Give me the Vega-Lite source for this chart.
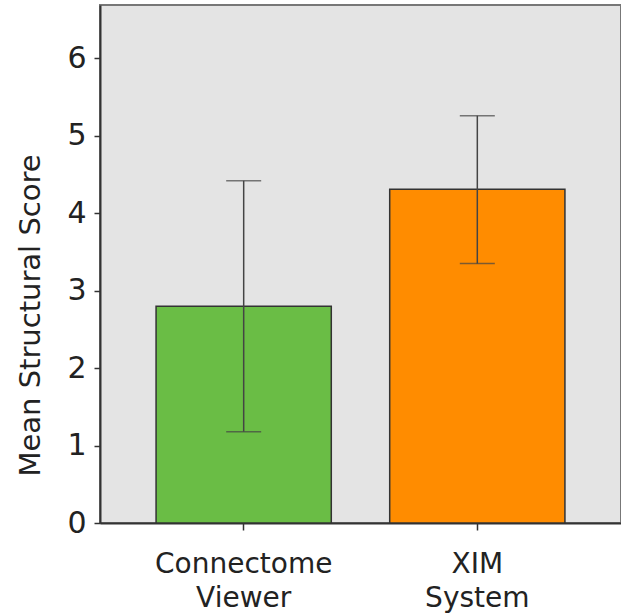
{
  "$schema": "https://vega.github.io/schema/vega-lite/v6.json",
  "autosize": {"type": "none"},
  "padding": {"left": 100, "top": 5, "right": 0, "bottom": 92},
  "width": 521,
  "height": 518,
  "background": "white",
  "config": {
    "view": {"fill": "#e4e4e4", "stroke": "#777777", "strokeWidth": 2},
    "font": "DejaVu Sans"
  },
  "data": {
    "values": [
      {"group": "Connectome Viewer", "mean": 2.8, "lo": 1.18, "hi": 4.42, "color": "#6abd45"},
      {"group": "XIM System", "mean": 4.31, "lo": 3.35, "hi": 5.26, "color": "#ff8c00"}
    ]
  },
  "encoding": {
    "x": {
      "field": "group",
      "type": "nominal",
      "sort": null,
      "scale": {"paddingInner": 0.25, "paddingOuter": 0.24},
      "axis": {
        "title": null,
        "labelAngle": 0,
        "labelExpr": "split(datum.label, ' ')",
        "labelFontSize": 28,
        "labelColor": "#222222",
        "labelLineHeight": 34,
        "labelPadding": 20,
        "tickSize": 7,
        "tickColor": "#333333",
        "tickWidth": 1.5,
        "domainColor": "#333333",
        "domainWidth": 2
      }
    }
  },
  "layer": [
    {
      "mark": {"type": "bar", "stroke": "#333333", "strokeWidth": 1.5},
      "encoding": {
        "y": {
          "field": "mean",
          "type": "quantitative",
          "scale": {"domain": [0, 6.69], "nice": false},
          "axis": {
            "title": "Mean Structural Score",
            "titleFontSize": 29,
            "titleFontWeight": "normal",
            "titleColor": "#222222",
            "titleX": -70,
            "titleY": 310,
            "titleAngle": -90,
            "titleAlign": "center",
            "titleBaseline": "middle",
            "values": [0, 1, 2, 3, 4, 5, 6],
            "format": "d",
            "labelFontSize": 30,
            "labelColor": "#222222",
            "labelPadding": 8,
            "tickSize": 6,
            "tickColor": "#333333",
            "tickWidth": 1.5,
            "domainColor": "#333333",
            "domainWidth": 2,
            "grid": false
          }
        },
        "fill": {"field": "color", "type": "nominal", "scale": null}
      }
    },
    {
      "mark": {"type": "rule", "color": "#444444", "strokeWidth": 1.5},
      "encoding": {
        "y": {"field": "lo", "type": "quantitative"},
        "y2": {"field": "hi"}
      }
    },
    {
      "mark": {"type": "tick", "color": "#444444", "thickness": 1.5, "size": 35},
      "encoding": {"y": {"field": "lo", "type": "quantitative"}}
    },
    {
      "mark": {"type": "tick", "color": "#444444", "thickness": 1.5, "size": 35},
      "encoding": {"y": {"field": "hi", "type": "quantitative"}}
    }
  ]
}
